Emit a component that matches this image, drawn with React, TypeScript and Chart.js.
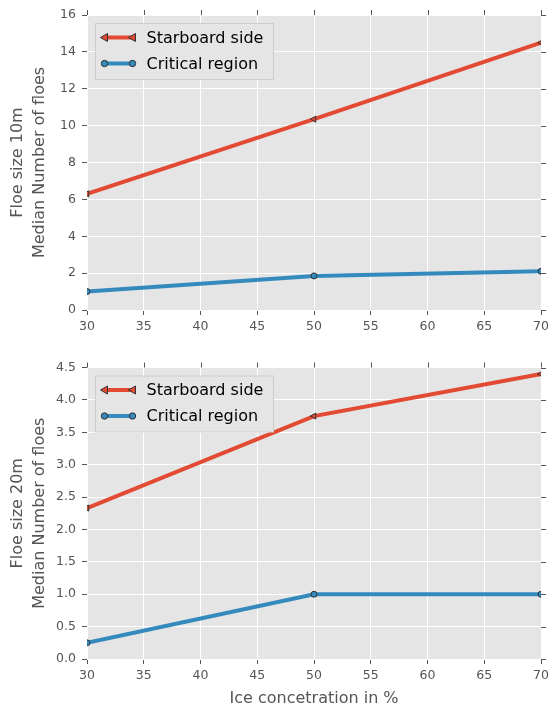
import React, { useEffect, useRef } from "react";
import { Chart, registerables } from "chart.js";

Chart.register(...registerables);

const iceConcentration = [30, 50, 70];
const starboard10 = [6.3, 10.35, 14.5];
const critical10 = [1.0, 1.85, 2.1];
const starboard20 = [2.33, 3.75, 4.4];
const critical20 = [0.25, 1.0, 1.0];
const seriesLabels = ["Starboard side", "Critical region"];
const yTitles10 = ["Floe size 10m", "Median Number of floes"];
const yTitles20 = ["Floe size 20m", "Median Number of floes"];
const xTitle = "Ice concetration in %";

const FONT = "'DejaVu Sans', sans-serif";
const RED = "#E24A33";
const BLUE = "#348ABD";
const TICK = "#555555";

const bgPlugin = {
  id: "ggbg",
  beforeDraw(chart: any) {
    const { ctx, chartArea: a } = chart;
    ctx.save();
    ctx.fillStyle = "#E5E5E5";
    ctx.fillRect(a.left, a.top, a.right - a.left, a.bottom - a.top);
    ctx.restore();
  },
  afterDraw(chart: any) {
    const { ctx, chartArea: a, scales } = chart;
    ctx.save();
    ctx.strokeStyle = TICK;
    ctx.lineWidth = 1;
    // top ticks
    scales.x.ticks.forEach((t: any) => {
      const px = Math.round(scales.x.getPixelForValue(t.value)) + 0.5;
      ctx.beginPath();
      ctx.moveTo(px, a.top);
      ctx.lineTo(px, a.top - 5);
      ctx.stroke();
    });
    // right ticks
    scales.y.ticks.forEach((t: any) => {
      const py = Math.round(scales.y.getPixelForValue(t.value)) + 0.5;
      ctx.beginPath();
      ctx.moveTo(a.right, py);
      ctx.lineTo(a.right + 5, py);
      ctx.stroke();
    });
    // legend
    const bx = a.left + 8.5;
    const by = a.top + 8.5;
    const bw = 178;
    const bh = 56;
    ctx.fillStyle = "#E5E5E5";
    ctx.strokeStyle = "#CCCCCC";
    ctx.fillRect(bx, by, bw, bh);
    ctx.strokeRect(bx, by, bw, bh);
    chart.data.datasets.forEach((ds: any, i: number) => {
      const y = by + 14 + i * 26;
      const x0 = bx + 9;
      const x1 = bx + 37;
      ctx.strokeStyle = ds.borderColor;
      ctx.lineWidth = 4;
      ctx.beginPath();
      ctx.moveTo(x0, y);
      ctx.lineTo(x1, y);
      ctx.stroke();
      [x0, x1].forEach((x) => {
        ctx.fillStyle = ds.pointBackgroundColor;
        ctx.strokeStyle = "#333333";
        ctx.lineWidth = 1;
        ctx.beginPath();
        if (ds.pointStyle === "triangle") {
          ctx.moveTo(x - 4, y);
          ctx.lineTo(x + 3, y - 4);
          ctx.lineTo(x + 3, y + 4);
          ctx.closePath();
        } else {
          ctx.arc(x, y, 3.2, 0, Math.PI * 2);
        }
        ctx.fill();
        ctx.stroke();
      });
      ctx.fillStyle = "#000000";
      ctx.font = `16px ${FONT}`;
      ctx.textBaseline = "middle";
      ctx.textAlign = "left";
      ctx.fillText(ds.label, bx + 51, y + 1);
    });
    ctx.restore();
  },
};

function makeConfig(
  starboard: number[],
  critical: number[],
  yMax: number,
  yStep: number,
  decimals: number,
  yTitle: string[],
  showXTitle: boolean,
  padTop: number,
  xHeight: number
): any {
  const toPts = (arr: number[]) => iceConcentration.map((x, i) => ({ x, y: arr[i] }));
  return {
    type: "line",
    data: {
      datasets: [
        {
          label: seriesLabels[0],
          data: toPts(starboard),
          borderColor: RED,
          backgroundColor: RED,
          pointBackgroundColor: RED,
          pointBorderColor: "#333333",
          pointBorderWidth: 1,
          pointStyle: "triangle",
          pointRotation: -90,
          pointRadius: 3.5,
          borderWidth: 4,
          tension: 0,
          clip: 0,
        },
        {
          label: seriesLabels[1],
          data: toPts(critical),
          borderColor: BLUE,
          backgroundColor: BLUE,
          pointBackgroundColor: BLUE,
          pointBorderColor: "#333333",
          pointBorderWidth: 1,
          pointStyle: "circle",
          pointRadius: 3,
          borderWidth: 4,
          tension: 0,
          clip: 0,
        },
      ],
    },
    options: {
      animation: false,
      responsive: false,
      maintainAspectRatio: false,
      layout: { padding: { left: 4, right: 9, top: padTop, bottom: 0 } },
      plugins: { legend: { display: false }, tooltip: { enabled: false } },
      scales: {
        x: {
          type: "linear",
          min: 30,
          max: 70,
          ticks: { stepSize: 5, color: TICK, font: { size: 12.5, family: FONT }, padding: 4, maxRotation: 0 },
          grid: { color: "#FFFFFF", tickColor: TICK, tickLength: 5, lineWidth: 1 },
          border: { display: false },
          title: {
            display: showXTitle,
            text: xTitle,
            color: TICK,
            font: { size: 16, family: FONT },
            padding: { top: 0, bottom: 0 },
          },
          afterFit: (s: any) => {
            s.height = xHeight;
          },
        },
        y: {
          min: 0,
          max: yMax,
          ticks: {
            stepSize: yStep,
            color: TICK,
            font: { size: 12.5, family: FONT },
            padding: 6,
            callback: (v: any) => Number(v).toFixed(decimals),
          },
          grid: { color: "#FFFFFF", tickColor: TICK, tickLength: 5, lineWidth: 1 },
          border: { display: false },
          title: {
            display: true,
            text: yTitle,
            color: TICK,
            font: { size: 16, family: FONT, lineHeight: 1.375 },
            padding: { top: 3, bottom: 0 },
          },
          afterFit: (s: any) => {
            s.width = 83;
          },
        },
      },
    },
    plugins: [bgPlugin],
  };
}

function ChartBox({ config, top }: { config: any; top: number }) {
  const ref = useRef<HTMLCanvasElement | null>(null);
  useEffect(() => {
    if (!ref.current) return;
    const c = new Chart(ref.current, config);
    return () => c.destroy();
  }, [config]);
  return (
    <canvas
      ref={ref}
      width={553}
      height={354}
      style={{ position: "absolute", left: 0, top, width: 553, height: 354 }}
    />
  );
}

const cfgTop = makeConfig(starboard10, critical10, 16, 2, 0, yTitles10, false, 15, 44);
const cfgBottom = makeConfig(starboard20, critical20, 4.5, 0.5, 1, yTitles20, true, 9, 49);

export default function App() {
  return (
    <div style={{ position: "absolute", left: 0, top: 0, width: 553, height: 708, background: "#FFFFFF" }}>
      <ChartBox config={cfgTop} top={0} />
      <ChartBox config={cfgBottom} top={354} />
    </div>
  );
}
